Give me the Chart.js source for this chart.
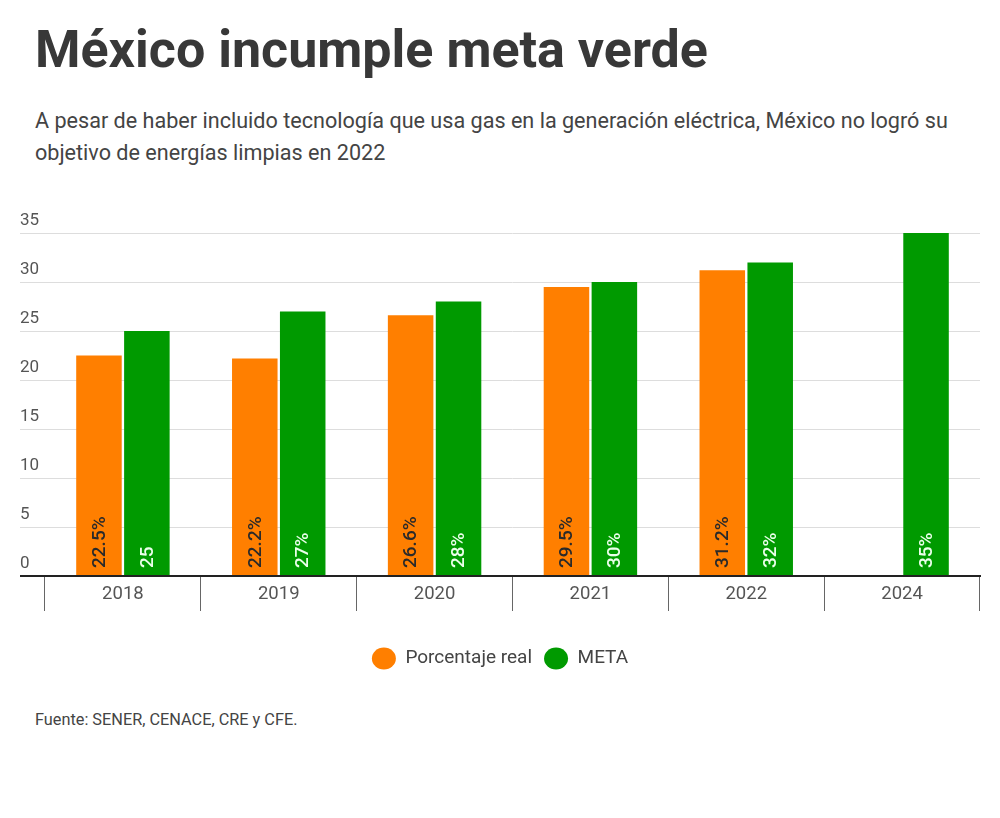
<!DOCTYPE html>
<html>
<head>
<meta charset="utf-8">
<script src="https://cdn.jsdelivr.net/npm/chart.js@4"></script>
<style>
  body { margin: 0; background: #fff; font-family: Roboto, sans-serif; }
  #page { position: relative; width: 1000px; height: 818px; }
  h1 { position: absolute; left: 35px; top: 24px; margin: 0; font-size: 52px; line-height: 52px; font-weight: 700; color: #383838; }
  .sub { position: absolute; left: 35px; top: 105px; margin: 0; font-size: 21.6px; line-height: 32px; color: #444; width: 940px; }
  #wrap { position: absolute; left: 0; top: 190px; width: 1000px; height: 500px; }
  .src { position: absolute; left: 35px; top: 710px; margin: 0; font-size: 16.3px; color: #444; }
</style>
</head>
<body>
<div id="page">
  <h1>México incumple meta verde</h1>
  <p class="sub">A pesar de haber incluido tecnología que usa gas en la generación eléctrica, México no logró su objetivo de energías limpias en 2022</p>
  <div id="wrap"><canvas id="myChart"></canvas></div>
  <p class="src">Fuente: SENER, CENACE, CRE y CFE.</p>
</div>
<script>
// Years on the x axis
const years = ['2018', '2019', '2020', '2021', '2022', '2024'];

// Clean energy share actually reached (no value for 2024)
const realValues = [22.5, 22.2, 26.6, 29.5, 31.2, null];
const realLabels = ['22.5%', '22.2%', '26.6%', '29.5%', '31.2%', ''];

// Target for each year
const metaValues = [25, 27, 28, 30, 32, 35];
const metaLabels = ['25', '27%', '28%', '30%', '32%', '35%'];

const yTicks = [0, 5, 10, 15, 20, 25, 30, 35];

// Draws the rotated value labels at the foot of each bar
const barLabels = {
    id: 'barLabels',
    afterDatasetsDraw(chart) {
        const ctx = chart.ctx;
        const texts = [realLabels, metaLabels];
        const colors = ['#2a2a2a', '#eaffea'];
        chart.data.datasets.forEach((ds, i) => {
            chart.getDatasetMeta(i).data.forEach((bar, j) => {
                if (ds.data[j] == null || !texts[i][j]) return;
                ctx.save();
                ctx.translate(bar.x, bar.base - 7);
                ctx.rotate(-Math.PI / 2);
                ctx.font = '500 19px Roboto';
                ctx.fillStyle = colors[i];
                ctx.textAlign = 'left';
                ctx.textBaseline = 'middle';
                ctx.fillText(texts[i][j], 0, 1);
                ctx.restore();
            });
        });
    }
};

const ctx = document.getElementById('myChart').getContext('2d');
const myChart = new Chart(ctx, {
    type: 'bar',
    data: {
        labels: years,
        datasets: [{
            label: 'Porcentaje real',
            data: realValues,
            backgroundColor: '#ff7f00',
            categoryPercentage: 0.615,
            barPercentage: 0.95
        }, {
            label: 'META',
            data: metaValues,
            backgroundColor: '#009a00',
            categoryPercentage: 0.615,
            barPercentage: 0.95
        }]
    },
    options: {
        responsive: true,
        maintainAspectRatio: false,
        animation: false,
        layout: { padding: { left: 20, right: 20, top: 43, bottom: 12 } },
        plugins: {
            tooltip: { enabled: false },
            legend: {
                position: 'bottom',
                labels: {
                    usePointStyle: true,
                    pointStyle: 'circle',
                    pointStyleWidth: 24,
                    boxHeight: 15.6,
                    padding: 12,
                    color: '#444',
                    font: { family: 'Roboto', size: 19 }
                }
            }
        },
        scales: {
            x: {
                grid: {
                    offset: true,
                    drawOnChartArea: false,
                    drawTicks: true,
                    tickLength: 35,
                    color: '#666'
                },
                border: { display: true, color: '#222', width: 2 },
                ticks: {
                    color: '#555',
                    padding: -28,
                    font: { family: 'Roboto', size: 18.5 }
                },
                afterFit: (scale) => { scale.height = 61; }
            },
            y: {
                min: 0,
                max: 35,
                afterBuildTicks: (scale) => { scale.ticks = yTicks.map(v => ({ value: v })); },
                grid: {
                    tickLength: 25,
                    color: (c) => c.tick && c.tick.value === 0 ? '#222' : '#dddddd',
                    tickColor: (c) => c.tick && c.tick.value === 0 ? '#222' : '#dddddd',
                    lineWidth: (c) => c.tick && c.tick.value === 0 ? 2 : 1
                },
                border: { display: false },
                ticks: {
                    crossAlign: 'far',
                    labelOffset: -12,
                    color: '#555',
                    font: { family: 'Roboto', size: 17 }
                },
                afterFit: (scale) => { scale.width = 25; }
            }
        }
    },
    plugins: [barLabels]
});
</script>
</body>
</html>
